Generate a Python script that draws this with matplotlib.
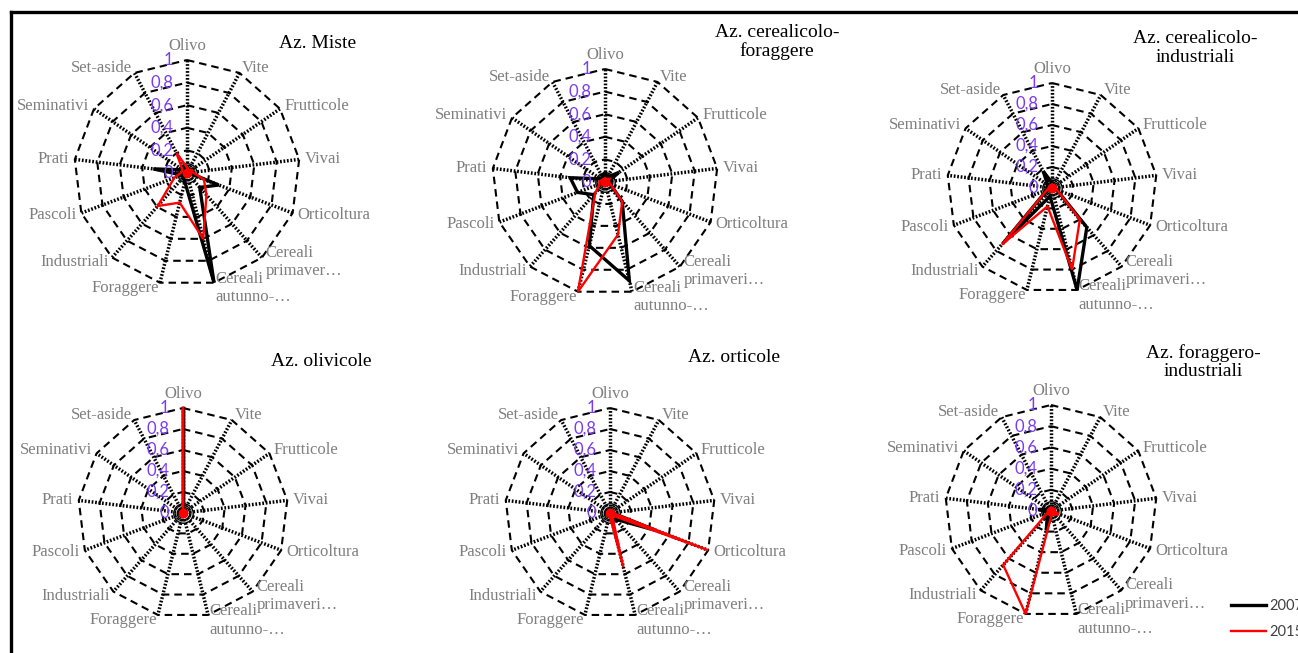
import numpy as np
import matplotlib
matplotlib.use("Agg")
import matplotlib.pyplot as plt
from matplotlib.lines import Line2D

W, H = 1298, 653

categories = ['Olivo', 'Vite', 'Frutticole', 'Vivai', 'Orticoltura',
              'Cereali primaverili', 'Cereali autunno-vernini', 'Foraggere',
              'Industriali', 'Pascoli', 'Prati', 'Seminativi', 'Set-aside']
cat_labels = ['Olivo', 'Vite', 'Frutticole', 'Vivai', 'Orticoltura',
              'Cereali\nprimaveri\u2026', 'Cereali\nautunno-\u2026', 'Foraggere',
              'Industriali', 'Pascoli', 'Prati', 'Seminativi', 'Set-aside']
cat_labels_miste = cat_labels[:5] + ['Cereali\nprimaver\u2026'] + cat_labels[6:]

r_ticks = [0, 0.2, 0.4, 0.6, 0.8, 1.0]
r_tick_labels = ['0', '0,2', '0,4', '0,6', '0,8', '1']

series_names = ['2007', '2015']

titles = ['Az. Miste', 'Az. cerealicolo-\nforaggere', 'Az. cerealicolo-\nindustriali',
          'Az. olivicole', 'Az. orticole', 'Az. foraggero-\nindustriali']

# values per chart (order of categories)
miste_2007 = [0.05, 0.03, 0.05, 0.02, 0.30, 0.17, 1.00, 0.08, 0.05, 0.05, 0.30, 0.05, 0.05]
miste_2015 = [0.05, 0.03, 0.05, 0.05, 0.16, 0.26, 0.60, 0.27, 0.39, 0.12, 0.05, 0.05, 0.20]

cerfor_2007 = [0.08, 0.05, 0.15, 0.03, 0.05, 0.23, 0.90, 0.58, 0.15, 0.26, 0.31, 0.05, 0.05]
cerfor_2015 = [0.03, 0.03, 0.05, 0.03, 0.05, 0.23, 0.48, 1.00, 0.13, 0.05, 0.05, 0.03, 0.03]

cerind_2007 = [0.05, 0.03, 0.03, 0.03, 0.05, 0.50, 1.00, 0.08, 0.70, 0.05, 0.05, 0.05, 0.18]
cerind_2015 = [0.03, 0.03, 0.03, 0.03, 0.05, 0.40, 0.80, 0.18, 0.72, 0.05, 0.03, 0.03, 0.03]

oliv_2007 = [1.00, 0, 0, 0, 0, 0, 0, 0, 0, 0, 0, 0, 0]
oliv_2015 = [1.00, 0, 0, 0, 0, 0, 0, 0, 0, 0, 0, 0, 0]

ort_2007 = [0.02, 0.02, 0.02, 0.02, 0.47, 0.08, 0.08, 0.02, 0.02, 0.02, 0.02, 0.02, 0.02]
ort_2015 = [0.02, 0.02, 0.02, 0.02, 1.00, 0.03, 0.53, 0.02, 0.02, 0.02, 0.02, 0.02, 0.02]

forind_2007 = [0.03, 0.02, 0.02, 0.02, 0.03, 0.03, 0.03, 0.19, 0.05, 0.03, 0.12, 0.03, 0.03]
forind_2015 = [0.03, 0.02, 0.02, 0.02, 0.08, 0.05, 0.03, 1.00, 0.68, 0.03, 0.03, 0.02, 0.02]

charts = [
    (miste_2007, miste_2015),
    (cerfor_2007, cerfor_2015),
    (cerind_2007, cerind_2015),
    (oliv_2007, oliv_2015),
    (ort_2007, ort_2015),
    (forind_2007, forind_2015),
]

# layout (pixel centre, radius) and title position
geom = [(187, 173, 113), (605, 182, 113), (1052, 188, 105),
        (183, 513, 105), (610, 513, 105), (1051, 511, 106)]
title_pos = [(318, 43), (777, 42), (1195, 48), (321, 361), (734, 358), (1203, 362)]

PURPLE = '#7B3CF0'
GRAY = '#7F7F7F'
SERIF = ['Liberation Serif', 'DejaVu Serif']

fig = plt.figure(figsize=(W / 100, H / 100), dpi=100)
fig.patch.set_facecolor('white')

n = len(categories)
theta = np.arange(n) * 2 * np.pi / n
theta_closed = np.append(theta, theta[0])

for k, ((cx, cy, r), vals) in enumerate(zip(geom, charts)):
    ax = fig.add_axes([(cx - r) / W, 1 - (cy + r) / H, 2 * r / W, 2 * r / H],
                      projection='polar')
    ax.set_theta_zero_location('N')
    ax.set_theta_direction(-1)
    ax.set_ylim(0, 1)
    ax.axis('off')

    # dashed polygon rings
    for v in r_ticks[1:]:
        ax.plot(theta_closed, [v] * (n + 1), color='black', lw=1.5,
                linestyle=(0, (3.6, 2.4)), clip_on=False, zorder=1)
    # dotted spokes
    for t in theta:
        ax.plot([t, t], [0, 1], color='black', lw=2.5,
                linestyle=(0, (0.5, 0.5)), clip_on=False, zorder=1)
    # small rings at centre
    for ms in (14, 9):
        ax.plot([0], [0], marker='o', ms=ms, mfc='none', mec='black', mew=1.0,
                clip_on=False, zorder=2)

    v07, v15 = vals
    ax.plot(theta_closed, list(v07) + [v07[0]], color='black', lw=2.4,
            clip_on=False, zorder=3, solid_joinstyle='miter')
    ax.plot(theta_closed, list(v15) + [v15[0]], color='#FF0000', lw=1.7,
            clip_on=False, zorder=4, solid_joinstyle='miter')
    ax.plot([0], [0], marker='o', ms=6, color='#FF0000', clip_on=False, zorder=5)

    # category labels
    labs = cat_labels_miste if k == 0 else cat_labels
    for t, lab in zip(theta, labs):
        s, c = np.sin(t), np.cos(t)
        if s > 0.1:
            ha = 'left'
        elif s < -0.1:
            ha = 'right'
        else:
            ha = 'center'
        va = 'bottom' if c > 0.95 else 'center'
        off = 4.0
        ax.annotate(lab, xy=(t, 1.0), xytext=(off * s, off * c),
                    textcoords='offset points', ha=ha, va=va,
                    fontsize=12, color=GRAY, family=SERIF,
                    linespacing=1.2, annotation_clip=False, zorder=6)

    # radial value labels
    for v, lab in zip(r_ticks, r_tick_labels):
        ax.annotate(lab, xy=(0, v), xytext=(-10, 0), textcoords='offset points',
                    ha='right', va='center', fontsize=12, color=PURPLE,
                    family=['Lato', 'DejaVu Sans'], annotation_clip=False, zorder=6)

    tx, ty = title_pos[k]
    fig.text(tx / W, 1 - ty / H, titles[k], ha='center', va='center',
             fontsize=14, color='black', family=SERIF, linespacing=1.1)

# legend, cut at right edge
handles = [Line2D([], [], color='black', lw=2.4), Line2D([], [], color='#FF0000', lw=1.7)]
fig.legend(handles, series_names, loc='upper left',
           bbox_to_anchor=(1231 / W, 1 - 599 / H), frameon=False,
           handlelength=2.4, handletextpad=0.25,
           labelspacing=0.8, borderpad=0, borderaxespad=0,
           labelcolor='#404040', prop={'family': ['Lato', 'DejaVu Sans'], 'size': 10.5})

# frame lines (top and left)
fig.add_artist(Line2D([11 / W, 1.0], [1 - 12 / H, 1 - 12 / H], color='black', lw=2.4,
                      transform=fig.transFigure))
fig.add_artist(Line2D([11 / W, 11 / W], [0, 1 - 12 / H], color='black', lw=2.4,
                      transform=fig.transFigure))

fig.savefig('out.png', dpi=100)
